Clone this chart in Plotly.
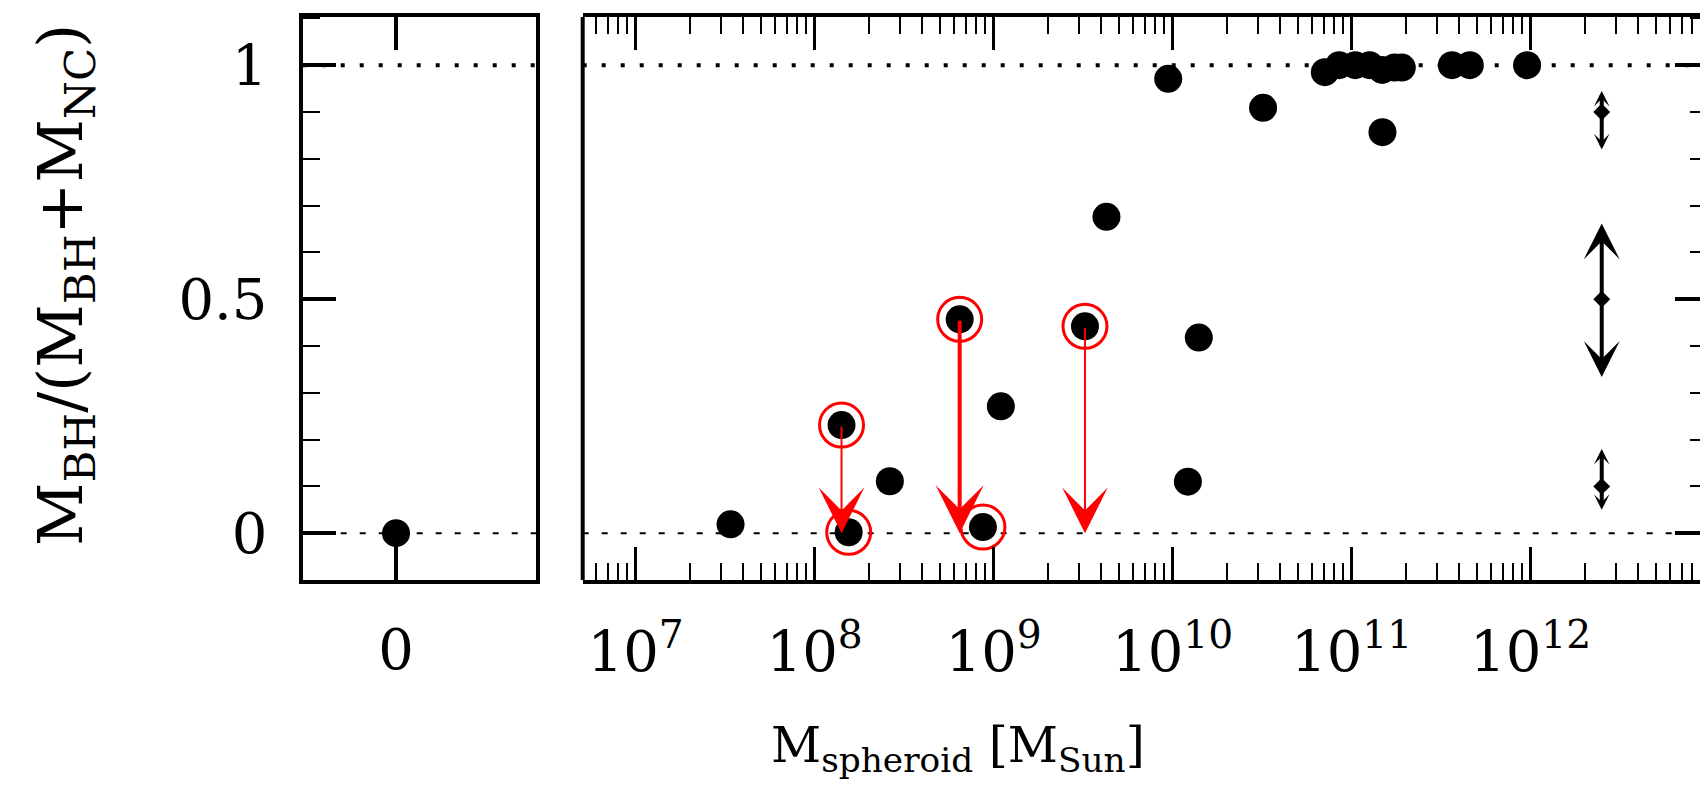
import plotly.graph_objects as go

# ---------------- data ----------------
# right panel: log10 of spheroid mass and BH fraction
log_mass = [7.53, 8.15, 8.19, 8.42, 8.81, 8.94, 9.04, 9.51, 9.63, 9.975, 10.085, 10.146,
            10.505, 10.85, 10.93, 11.02, 11.10, 11.17, 11.24, 11.28, 11.172, 11.56, 11.66, 11.98]
bh_fraction = [0.019, 0.231, 0.002, 0.111, 0.457, 0.013, 0.271, 0.442, 0.676, 0.971, 0.110, 0.418,
               0.909, 0.985, 1.0, 1.0, 1.0, 0.99, 0.995, 0.995, 0.857, 1.0, 1.0, 1.0]
# red-circled objects
circled_log_mass = [8.15, 8.19, 8.81, 8.94, 9.51]
circled_fraction = [0.231, 0.002, 0.457, 0.013, 0.442]
# red upper-limit arrows
arrow_log_mass = [8.15, 8.81, 9.51]
arrow_from = [0.231, 0.457, 0.442]
arrow_to = [0.0, 0.0, 0.0]
# left panel (zero spheroid mass)
zero_x = [0]
zero_fraction = [0.0]
# representative uncertainty bars
err_log_mass = [12.397, 12.397, 12.397]
err_lo = [0.82, 0.334, 0.05]
err_mid = [0.90, 0.50, 0.10]
err_hi = [0.945, 0.662, 0.18]
# ticks
left_y_ticks = [0, 0.5, 1]
left_y_labels = ["0", "0.5", "1"]
x_exponents = [7, 8, 9, 10, 11, 12]

# ---------------- layout helpers ----------------
W, H = 1700, 802
def px_x(p):
    return p / W
def px_y(p):
    return 1 - p / H

x1_dom = [px_x(302.7), px_x(536)]
x2_dom = [px_x(582.7), 1.0]
y_dom = [px_y(580), px_y(17)]
y_range = [-0.1, 1.103]
x2_range = [6.704, 12.946]

FONT = "DejaVu Serif"
TICKFONT = dict(family=FONT, size=56, color="black")
mass = [10 ** v for v in log_mass]
circ_mass = [10 ** v for v in circled_log_mass]
err_mass = [10 ** v for v in err_log_mass]

fig = go.Figure()

# red rings
fig.add_trace(go.Scatter(x=circ_mass, y=circled_fraction, xaxis="x2", yaxis="y2", mode="markers",
                         marker=dict(symbol="circle-open", size=44, color="#ff0000",
                                     line=dict(width=3, color="#ff0000")),
                         hoverinfo="skip"))
# black points
fig.add_trace(go.Scatter(x=mass, y=bh_fraction, xaxis="x2", yaxis="y2", mode="markers",
                         marker=dict(symbol="circle", size=28, color="black"), hoverinfo="skip"))
# left panel point
fig.add_trace(go.Scatter(x=zero_x, y=zero_fraction, xaxis="x", yaxis="y", mode="markers",
                         marker=dict(symbol="circle", size=28, color="black"), hoverinfo="skip"))
# uncertainty bar centres
fig.add_trace(go.Scatter(x=err_mass, y=err_mid, xaxis="x2", yaxis="y2", mode="markers",
                         marker=dict(symbol="diamond", size=13, color="black"), hoverinfo="skip"))

annotations = []
# red arrows
red_widths = [2, 4, 2]
red_sizes = [3.8, 2.0, 3.8]
for lm, y0, y1, w, s in zip(arrow_log_mass, arrow_from, arrow_to, red_widths, red_sizes):
    annotations.append(dict(x=lm, y=y1, ax=lm, ay=y0, xref="x2", yref="y2", axref="x2", ayref="y2",
                            text="", showarrow=True, arrowhead=3, arrowsize=s, arrowwidth=w,
                            arrowcolor="#ff0000", standoff=0, startstandoff=0))
# black uncertainty arrows
blk_sizes = [0.65, 1.5, 0.65]
for lm, lo, mid, hi, s in zip(err_log_mass, err_lo, err_mid, err_hi, blk_sizes):
    for end in (lo, hi):
        annotations.append(dict(x=lm, y=end, ax=lm, ay=mid, xref="x2", yref="y2", axref="x2", ayref="y2",
                                text="", showarrow=True, arrowhead=3, arrowsize=s, arrowwidth=4,
                                arrowcolor="black", standoff=0, startstandoff=0))

# axis titles
annotations.append(dict(text="M<sub>spheroid</sub> [M<sub>Sun</sub>]", x=px_x(958), y=px_y(748),
                        xref="paper", yref="paper", showarrow=False, xanchor="center", yanchor="middle",
                        font=dict(family=FONT, size=49, color="black")))
annotations.append(dict(text="M<sub>BH</sub>/(M<sub>BH</sub>+M<sub>NC</sub>)", x=px_x(64), y=px_y(285),
                        xref="paper", yref="paper", showarrow=False, xanchor="center", yanchor="middle",
                        textangle=-90, font=dict(family=FONT, size=62, color="black")))

shapes = []
# reference lines at 0 and 1
for xr, yr in (("x domain", "y"), ("x2 domain", "y2")):
    shapes.append(dict(type="line", xref=xr, x0=0, x1=1, yref=yr,
                       y0=1, y1=1, line=dict(color="black", width=4, dash="4px,15px"), layer="below"))
    shapes.append(dict(type="line", xref=xr, x0=0, x1=1, yref=yr,
                       y0=0, y1=0, line=dict(color="black", width=2, dash="6px,13px"), layer="below"))
# left frame of right panel
shapes.append(dict(type="line", xref="x2 domain", x0=0, x1=0, yref="y2 domain", y0=0, y1=1,
                   line=dict(color="black", width=4)))

minor_x = [m * 10 ** e for e in range(6, 13) for m in range(2, 10)]

fig.update_layout(
    width=W, height=H, margin=dict(l=0, r=0, t=0, b=0),
    paper_bgcolor="white", plot_bgcolor="white", showlegend=False,
    font=dict(family=FONT, size=50, color="black"),
    xaxis=dict(domain=x1_dom, range=[-0.4, 0.6], anchor="y", tickvals=[0], ticktext=["0"],
               ticks="inside", ticklen=33, tickwidth=4, tickcolor="black",
               showline=True, linewidth=4, linecolor="black", mirror="ticks",
               showgrid=False, zeroline=False, ticklabelstandoff=18, tickfont=TICKFONT),
    yaxis=dict(domain=y_dom, range=y_range, anchor="x", tickvals=left_y_ticks, ticktext=left_y_labels,
               ticks="inside", ticklen=33, tickwidth=4, tickcolor="black",
               minor=dict(ticks="inside", ticklen=17, tickwidth=2, tickcolor="black", dtick=0.1, tick0=0,
                          showgrid=False),
               showline=True, linewidth=4, linecolor="black", mirror=True,
               showgrid=False, zeroline=False, ticklabelstandoff=20, tickfont=TICKFONT),
    xaxis2=dict(domain=x2_dom, type="log", range=x2_range, anchor="y2",
                tickvals=[10 ** e for e in x_exponents],
                ticktext=["10<sup>%d</sup>" % e for e in x_exponents],
                ticks="inside", ticklen=33, tickwidth=3, tickcolor="black",
                minor=dict(ticks="inside", ticklen=17, tickwidth=2, tickcolor="black",
                           tickvals=minor_x, showgrid=False),
                showline=True, linewidth=4, linecolor="black", mirror="ticks",
                showgrid=False, zeroline=False, ticklabelstandoff=20, tickfont=TICKFONT),
    yaxis2=dict(domain=y_dom, range=y_range, anchor="x2", side="right",
                tickvals=left_y_ticks, showticklabels=False,
                ticks="inside", ticklen=25, tickwidth=4, tickcolor="black",
                minor=dict(ticks="inside", ticklen=10, tickwidth=2, tickcolor="black", dtick=0.1, tick0=0,
                           showgrid=False),
                showline=False, showgrid=False, zeroline=False),
    annotations=annotations,
    shapes=shapes,
)

fig.write_html("out.html")
